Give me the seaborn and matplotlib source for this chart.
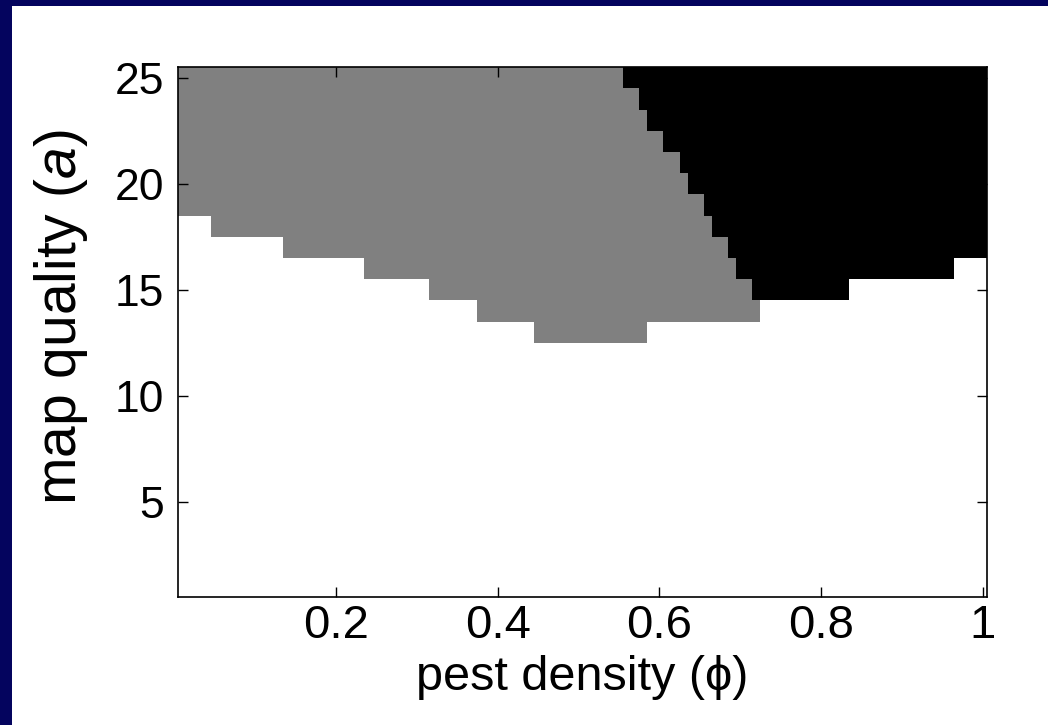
import numpy as np
import pandas as pd
import matplotlib
matplotlib.use("Agg")
import matplotlib.pyplot as plt
from matplotlib.colors import ListedColormap
from matplotlib.patches import Rectangle
import seaborn as sns

# ---- data ----
# pest density grid (columns) and map quality grid (rows)
phi_values = np.round(np.arange(1, 101) * 0.01, 2)
a_values = list(range(25, 0, -1))

# lowest non-white row for each phi segment (segment upper bound)
seg_phi_max = [0.04, 0.13, 0.23, 0.31, 0.37, 0.44, 0.58, 0.72, 0.83, 0.96, 1.00]
seg_lowest_row = [19, 18, 17, 16, 15, 14, 13, 14, 15, 16, 17]

# first phi of the black region in each row
black_rows = [25, 24, 23, 22, 21, 20, 19, 18, 17, 16, 15]
black_phi_start = [0.56, 0.58, 0.59, 0.61, 0.63, 0.64, 0.66, 0.67, 0.69, 0.70, 0.72]

x_ticks = [0.2, 0.4, 0.6, 0.8, 1.0]
x_ticklabels = ["0.2", "0.4", "0.6", "0.8", "1"]
y_ticks = [5, 10, 15, 20, 25]
y_ticklabels = ["5", "10", "15", "20", "25"]

# ---- build the category matrix ----
black_start = dict(zip(black_rows, black_phi_start))


def lowest_row(p):
    for pm, r in zip(seg_phi_max, seg_lowest_row):
        if p <= pm + 1e-9:
            return r
    return seg_lowest_row[-1]


mat = np.zeros((len(a_values), len(phi_values)))
for i, a in enumerate(a_values):
    for j, p in enumerate(phi_values):
        if a < lowest_row(p):
            mat[i, j] = 0
        elif a in black_start and p >= black_start[a] - 1e-9:
            mat[i, j] = 2
        else:
            mat[i, j] = 1
df = pd.DataFrame(mat, index=a_values, columns=phi_values)

# ---- styling ----
plt.rcParams["font.family"] = ["Liberation Sans", "DejaVu Sans"]
plt.rcParams["mathtext.fontset"] = "custom"
plt.rcParams["mathtext.rm"] = "Liberation Sans"
plt.rcParams["mathtext.it"] = "Liberation Sans:italic"

navy = "#04045e"
W, H = 1048, 725
fig = plt.figure(figsize=(W / 100, H / 100), dpi=100, facecolor=navy)
fig.patches.append(Rectangle((12 / W, 0), 1 - 12 / W, 1 - 6 / H,
                             transform=fig.transFigure, facecolor="white",
                             edgecolor="none", zorder=-10))

ax = fig.add_axes([178.3 / W, 1 - 597.3 / H, (986.7 - 178.3) / W, (597.3 - 67.3) / H])

cmap = ListedColormap(["white", "#808080", "black"])
sns.heatmap(df, ax=ax, cmap=cmap, vmin=-0.5, vmax=2.5, cbar=False,
            xticklabels=False, yticklabels=False, linewidths=0)

phi_list = list(phi_values)
ax.set_xticks([phi_list.index(round(p, 2)) + 0.5 for p in x_ticks])
ax.set_xticklabels(x_ticklabels, rotation=0)
ax.set_yticks([a_values.index(a) + 0.5 for a in y_ticks])
ax.set_yticklabels(y_ticklabels, rotation=0)

for s in ax.spines.values():
    s.set_visible(True)
    s.set_linewidth(1.2)
    s.set_color("black")

ax.tick_params(direction="in", length=7, width=1, top=True, right=True,
               labeltop=False, labelright=False, colors="black")
ax.tick_params(axis="x", pad=5, labelsize=34)
ax.tick_params(axis="y", pad=10, labelsize=32)

ax.set_xlabel("pest density (\u03d5)", fontsize=35)
ax.set_ylabel("map quality ($a$)", fontsize=41)
ax.xaxis.set_label_coords(0.5, -0.152)
ax.xaxis.label.set_va("center")
ax.yaxis.set_label_coords(-0.145, 0.529)
ax.yaxis.label.set_va("center")

fig.savefig("out.png", dpi=100, facecolor=fig.get_facecolor())
